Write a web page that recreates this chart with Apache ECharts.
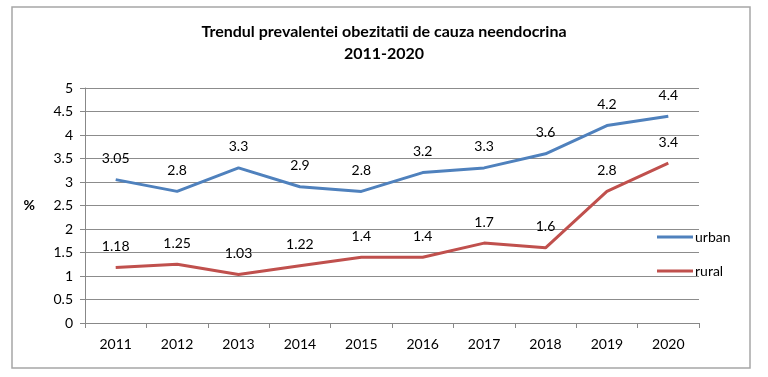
<!DOCTYPE html>
<html><head><meta charset="utf-8">
<script src="https://cdn.jsdelivr.net/npm/echarts@6/dist/echarts.min.js"></script>
<style>html,body{margin:0;padding:0;background:#fff}#c{width:768px;height:377px}</style>
</head><body><div id="c"></div>
<script>
var years = ['2011','2012','2013','2014','2015','2016','2017','2018','2019','2020'];
var urban = [3.05, 2.8, 3.3, 2.9, 2.8, 3.2, 3.3, 3.6, 4.2, 4.4];
var rural = [1.18, 1.25, 1.03, 1.22, 1.4, 1.4, 1.7, 1.6, 2.8, 3.4];
var titleText = 'Trendul prevalentei obezitatii de cauza neendocrina\n2011-2020';
var FONT = 'Lato, "Open Sans", sans-serif';
var BLUE = '#4f81bd', RED = '#c0504d';
var chart = echarts.init(document.getElementById('c'));
function labelFmt(p){ return String(p.value); }
chart.setOption({
  animation:false,
  textStyle:{fontFamily:FONT},
  title:{text:titleText,left:'center',top:16,textStyle:{fontSize:16,fontWeight:'bold',color:'#000',fontFamily:FONT,lineHeight:22}},
  graphic:[{type:'rect',shape:{x:12,y:7,width:738,height:361},style:{fill:'none',stroke:'#a6a6a6',lineWidth:1.5},z:-1}],
  grid:{left:85,right:69,top:88,bottom:54},
  legend:{orient:'vertical',left:652,top:225,itemGap:20,itemWidth:36,itemHeight:3,icon:'rect',
    textStyle:{fontSize:14,color:'#000',fontFamily:FONT,padding:[0,0,0,-3]},
    data:[{name:'urban',itemStyle:{color:BLUE,opacity:1}},{name:'rural',itemStyle:{color:RED,opacity:1}}]},
  xAxis:{type:'category',data:years,boundaryGap:true,
    axisLine:{lineStyle:{color:'#888'}},axisTick:{show:true,length:5,lineStyle:{color:'#888'}},
    axisLabel:{fontSize:14,color:'#000',margin:14}},
  yAxis:{type:'value',min:0,max:5,interval:0.5,name:'%',nameLocation:'middle',nameRotate:0,nameGap:50,
    nameTextStyle:{fontSize:14,fontWeight:'bold',color:'#000'},
    axisLine:{show:true,lineStyle:{color:'#888'}},axisTick:{show:true,length:5,lineStyle:{color:'#888'}},
    splitLine:{lineStyle:{color:'#8c8c8c'}},
    axisLabel:{fontSize:14,color:'#000',margin:12}},
  series:[
    {name:'urban',type:'line',data:urban,symbol:'circle',symbolSize:0.1,showSymbol:true,
      lineStyle:{width:3,color:BLUE},itemStyle:{color:'transparent',borderWidth:0},
      label:{show:true,position:'top',distance:14,fontSize:14,color:'#000',formatter:labelFmt}},
    {name:'rural',type:'line',data:rural,symbol:'circle',symbolSize:0.1,showSymbol:true,
      lineStyle:{width:3,color:RED},itemStyle:{color:'transparent',borderWidth:0},
      label:{show:true,position:'top',distance:14,fontSize:14,color:'#000',formatter:labelFmt}}
  ]
});
</script></body></html>
